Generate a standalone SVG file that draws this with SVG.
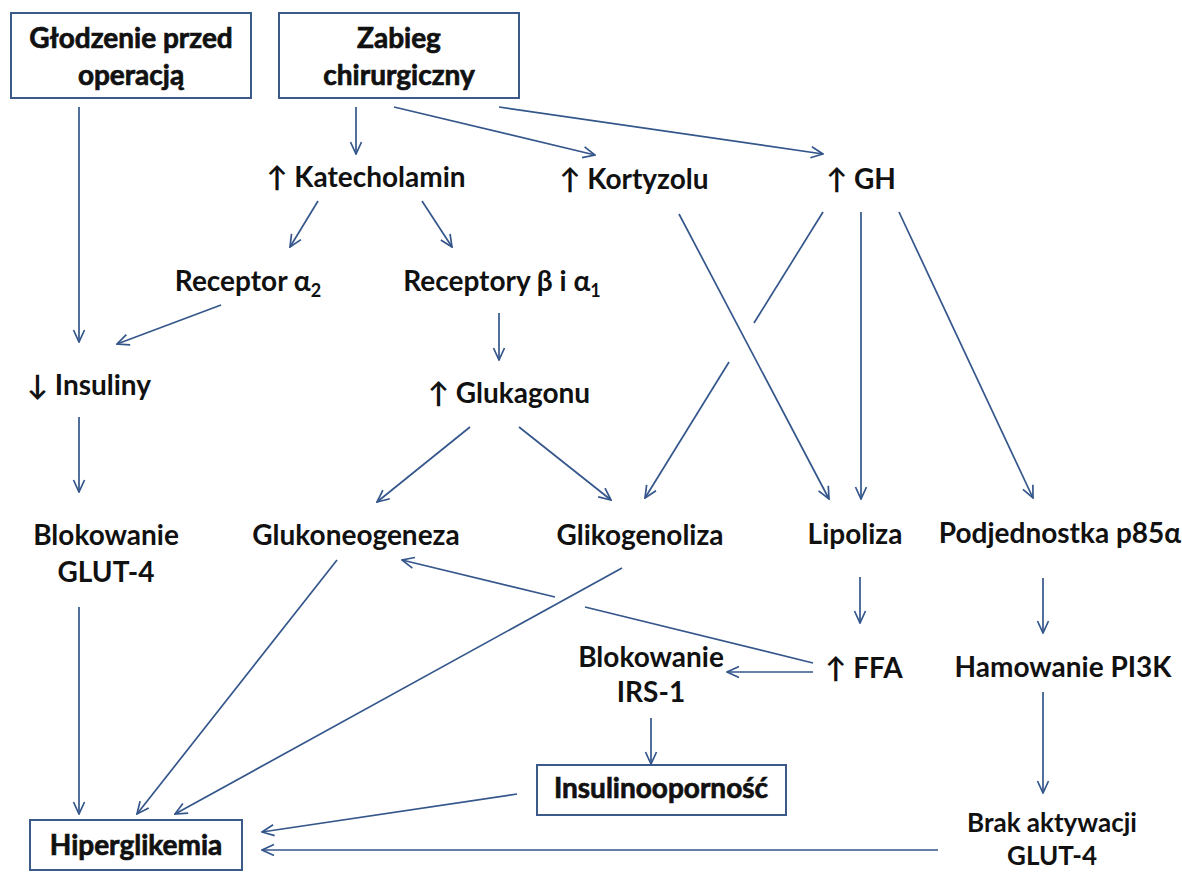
<svg xmlns="http://www.w3.org/2000/svg" width="1182" height="872" viewBox="0 0 1182 872">
<defs>
<marker id="ah" viewBox="0 0 14 14" refX="13" refY="7" markerWidth="14" markerHeight="14" markerUnits="userSpaceOnUse" orient="auto">
<path d="M1,1.5 L13,7 L1,12.5" fill="none" stroke="#34568b" stroke-width="1.7"/>
</marker>
<style>
.t{font-family:"Lato","Liberation Sans",sans-serif;font-weight:bold;font-size:28px;fill:#111;text-anchor:middle}
.s{font-size:26px}
.b{font-family:"Lato","Liberation Sans",sans-serif;font-weight:bold;font-size:28px;fill:#111;stroke:#111;stroke-width:0.7;text-anchor:middle}
.box{fill:#fff;stroke:#3b5a8a;stroke-width:2}
.c line{stroke:#34568b;stroke-width:1.7;fill:none}
.a{marker-end:url(#ah)}
</style>
</defs>
<rect width="1182" height="872" fill="#fff"/>
<g id="glodzenie"><rect class="box" x="11" y="13" width="240" height="85"/><text class="b" x="131" y="48">Głodzenie przed</text><text class="b" x="131" y="85">operacją</text></g>
<g id="zabieg"><rect class="box" x="279" y="13" width="240" height="85"/><text class="b" x="399" y="48">Zabieg</text><text class="b" x="399" y="85">chirurgiczny</text></g>
<g id="katecholamin"><text class="t" x="366" y="187">↑ Katecholamin</text></g>
<g id="kortyzolu"><text class="t" x="634" y="189">↑ Kortyzolu</text></g>
<g id="gh"><text class="t" x="861" y="189">↑ GH</text></g>
<g id="receptor-a2"><text class="t" x="248" y="291">Receptor α<tspan font-size="18" dy="6">2</tspan></text></g>
<g id="receptory-b"><text class="t" x="502" y="291">Receptory β i α<tspan font-size="18" dy="6">1</tspan></text></g>
<g id="insuliny"><text class="t" x="89" y="395">↓ Insuliny</text></g>
<g id="glukagonu"><text class="t" x="509" y="403">↑ Glukagonu</text></g>
<g id="blokowanie-glut4"><text class="t" x="106" y="545">Blokowanie</text><text class="t" x="106" y="582">GLUT-4</text></g>
<g id="glukoneogeneza"><text class="t" x="356" y="545">Glukoneogeneza</text></g>
<g id="glikogenoliza"><text class="t" x="640" y="545">Glikogenoliza</text></g>
<g id="lipoliza"><text class="t" x="855" y="544">Lipoliza</text></g>
<g id="podjednostka"><text class="t" x="1060" y="543">Podjednostka p85α</text></g>
<g id="ffa"><text class="t" x="864" y="678">↑ FFA</text></g>
<g id="blokowanie-irs1"><text class="t" x="651" y="667">Blokowanie</text><text class="t" x="651" y="702">IRS-1</text></g>
<g id="hamowanie"><text class="t" x="1063" y="677">Hamowanie PI3K</text></g>
<g id="insulinoopornosc"><rect class="box" x="537" y="765" width="249" height="50"/><text class="b" x="661" y="798">Insulinooporność</text></g>
<g id="brak"><text class="t s" x="1052" y="832">Brak aktywacji</text><text class="t s" x="1052" y="865">GLUT-4</text></g>
<g id="hiperglikemia"><rect class="box" x="30" y="820" width="212" height="50"/><text class="b" x="136" y="855">Hiperglikemia</text></g>
<g id="connectors" class="c">
<line class="a" x1="79" y1="107" x2="79" y2="342"/>
<line class="a" x1="356" y1="107" x2="356" y2="154"/>
<line class="a" x1="394" y1="107" x2="595" y2="155"/>
<line class="a" x1="499" y1="107" x2="823" y2="154"/>
<line class="a" x1="318" y1="201" x2="290" y2="247"/>
<line class="a" x1="422" y1="201" x2="452" y2="247"/>
<line class="a" x1="221" y1="305" x2="117" y2="344"/>
<line class="a" x1="499" y1="313" x2="499" y2="360"/>
<line class="a" x1="79" y1="417" x2="79" y2="492"/>
<line class="a" x1="470" y1="427" x2="377" y2="502"/>
<line class="a" x1="519" y1="427" x2="611" y2="500"/>
<line class="a" x1="679" y1="214" x2="829" y2="499"/>
<line x1="823" y1="212" x2="754" y2="323"/>
<line class="a" x1="729" y1="362" x2="645" y2="498"/>
<line class="a" x1="861" y1="212" x2="861" y2="499"/>
<line class="a" x1="899" y1="212" x2="1033" y2="498"/>
<line class="a" x1="337" y1="560" x2="137" y2="814"/>
<line class="a" x1="622" y1="568" x2="175" y2="814"/>
<line x1="813" y1="663" x2="585" y2="607"/>
<line class="a" x1="555" y1="597" x2="402" y2="560"/>
<line class="a" x1="860" y1="577" x2="860" y2="623"/>
<line class="a" x1="813" y1="672" x2="727" y2="672"/>
<line class="a" x1="1043" y1="578" x2="1043" y2="633"/>
<line class="a" x1="1043" y1="692" x2="1043" y2="793"/>
<line class="a" x1="651" y1="718" x2="651" y2="764"/>
<line class="a" x1="517" y1="794" x2="262" y2="832"/>
<line class="a" x1="938" y1="850" x2="262" y2="850"/>
<line class="a" x1="79" y1="607" x2="79" y2="814"/>
</g>
</svg>
